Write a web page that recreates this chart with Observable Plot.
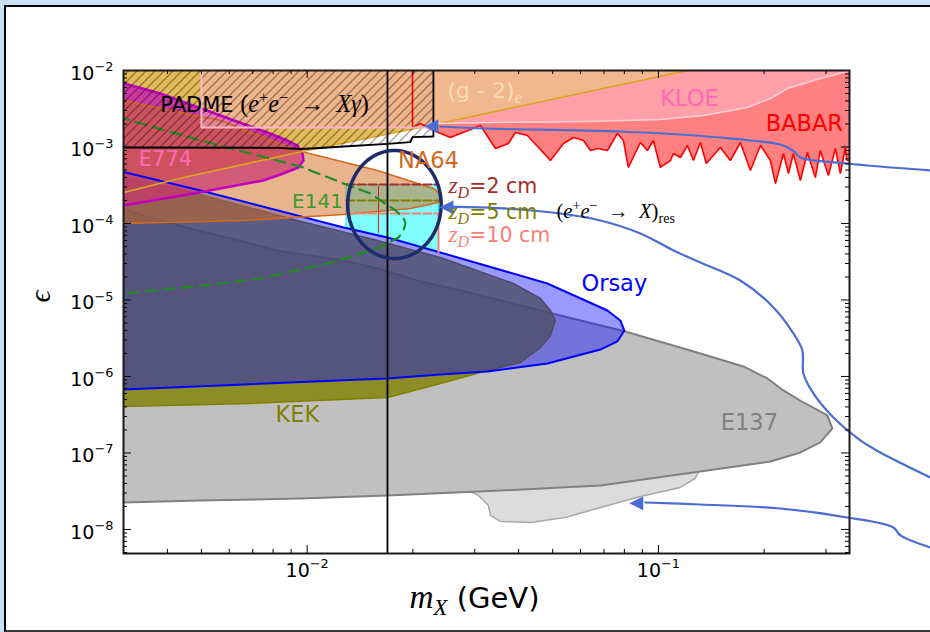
<!DOCTYPE html>
<html><head><meta charset="utf-8">
<script src="https://cdn.jsdelivr.net/npm/d3@7"></script>
<script src="https://cdn.jsdelivr.net/npm/@observablehq/plot@0.6"></script>
<style>
html,body{margin:0;padding:0;}
body{width:930px;height:632px;overflow:hidden;position:relative;background:#c8e1f6;font-family:"DejaVu Sans";}
#sheet{position:absolute;left:4px;top:5px;right:0;bottom:0;background:#fff;border-left:2px solid #000;border-top:2px solid #000;border-bottom:2px solid #3a3a3a;}
#chart{position:absolute;left:0;top:0;}
</style></head><body>
<div id="sheet"></div><div id="chart"></div>
<script>
// ---------- axes ----------
const xDomain = [0.003, 0.35];
const yDomain = [4.85e-9, 1e-2];
const xMajor = [0.01, 0.1];
const xMinor = [0.003,0.004,0.005,0.006,0.007,0.008,0.009,0.02,0.03,0.04,0.05,0.06,0.07,0.08,0.09,0.2,0.3];
const yMajor = [1e-2,1e-3,1e-4,1e-5,1e-6,1e-7,1e-8];
const xTickLabels = ["10§n^−2","10§n^−1"];
const yTickLabels = ["10§n^−2","10§n^−3","10§n^−4","10§n^−5","10§n^−6","10§n^−7","10§n^−8"];

// ---------- regions: [mX (GeV), epsilon] ----------
const babarEdge = [[0.01995,0.011],[0.01995,1.80e-3],[0.02102,2.03e-3],[0.02288,1.643e-3],[0.02557,1.331e-3],[0.03114,1.91e-3],[0.03436,9.56e-4],[0.03741,1.111e-3],[0.03916,1.547e-3],[0.04236,1.414e-3],[0.04928,6.66e-4],[0.05367,1.111e-3],[0.05731,1.331e-3],[0.06119,1.216e-3],[0.06405,9.0e-4],[0.06708,9.56e-4],[0.0716,9.0e-4],[0.0764,1.5e-3],[0.07952,1.216e-3],[0.08212,5.40e-4],[0.0889,1.145e-3],[0.09305,9.0e-4],[0.09678,1.216e-3],[0.1013,5.40e-4],[0.1082,6.66e-4],[0.1104,8.22e-4],[0.1155,7.29e-4],[0.121,1.046e-3],[0.1258,6.66e-4],[0.1317,1.145e-3],[0.1369,6.08e-4],[0.1501,9.85e-4],[0.1603,6.66e-4],[0.1711,1.145e-3],[0.1828,4.93e-4],[0.1952,1.046e-3],[0.2084,6.66e-4],[0.2154,3.33e-4],[0.227,8.22e-4],[0.2346,4.50e-4],[0.2423,8.22e-4],[0.2536,3.65e-4],[0.2655,8.47e-4],[0.2798,3.99e-4],[0.2889,9.0e-4],[0.3048,4.24e-4],[0.3191,9.56e-4],[0.3297,4.50e-4],[0.3407,9.85e-4],[0.3443,6.66e-4],[0.37,6.66e-4]];
const kloeEdge = [[0.02288,2.03e-3],[0.0326,2.09e-3],[0.06279,2.154e-3],[0.1013,2.29e-3],[0.1343,2.58e-3],[0.1792,3.28e-3],[0.2084,4.31e-3],[0.2331,5.82e-3],[0.2889,7.86e-3],[0.3443,9.70e-3],[0.3758,1.062e-2]];
const g2Edge = [[0.0029,2.45e-4],[0.00445,3.99e-4],[0.01,9.0e-4],[0.02102,1.80e-3],[0.02288,1.957e-3],[0.1501,1.234e-2]];
const e137Region = [[0.0029,1.6e-4],[0.003,1.571e-4],[0.00342,1.272e-4],[0.00488,8.10e-5],[0.00593,6.56e-5],[0.00823,4.44e-5],[0.0127,3.28e-5],[0.01585,2.58e-5],[0.0206,1.80e-5],[0.0273,1.331e-5],[0.0355,9.85e-6],[0.0526,6.27e-6],[0.0805,3.87e-6],[0.1233,2.19e-6],[0.1746,1.351e-6],[0.2043,9.42e-7],[0.227,6.56e-7],[0.2587,4.57e-7],[0.3028,3.09e-7],[0.3128,2.09e-7],[0.2889,1.372e-7],[0.2536,1.015e-7],[0.2084,7.74e-8],[0.1378,5.90e-8],[0.0684,3.76e-8],[0.0355,3.23e-8],[0.01693,2.78e-8],[0.00957,2.54e-8],[0.00497,2.39e-8],[0.003,2.25e-8],[0.0029,2.24e-8]];
const e137Extension = [[0.0279,3.45e-8],[0.03074,2.78e-8],[0.0328,2.06e-8],[0.03325,1.524e-8],[0.0355,1.272e-8],[0.04321,1.234e-8],[0.05436,1.435e-8],[0.0684,1.94e-8],[0.0889,2.70e-8],[0.1155,3.54e-8],[0.1274,4.64e-8],[0.131,6.0e-8]];
const kekRegion = [[0.0029,4.05e-4],[0.003,3.99e-4],[0.00428,2.87e-4],[0.00938,1.094e-4],[0.01585,6.0e-5],[0.02395,3.59e-5],[0.03866,1.643e-5],[0.04613,1.046e-5],[0.04928,7.29e-6],[0.0509,5.40e-6],[0.04928,3.44e-6],[0.04613,2.39e-6],[0.04048,1.524e-6],[0.03114,1.128e-6],[0.02395,8.10e-7],[0.01693,5.31e-7],[0.0069,4.44e-7],[0.003,4.05e-7],[0.0029,4.04e-7]];
const orsayRegion = [[0.0029,4.85e-4],[0.003,4.71e-4],[0.00497,2.70e-4],[0.0127,8.87e-5],[0.01693,6.56e-5],[0.02395,4.18e-5],[0.0483,1.643e-5],[0.0716,7.29e-6],[0.0779,5.40e-6],[0.08,3.99e-6],[0.0764,2.87e-6],[0.0684,2.25e-6],[0.0483,1.479e-6],[0.0326,1.162e-6],[0.02395,1.062e-6],[0.01693,9.42e-7],[0.0122,8.87e-7],[0.003,6.76e-7],[0.0029,6.74e-7]];
const e774Region = [[0.0029,7.0e-3],[0.003,6.82e-3],[0.00382,5.0e-3],[0.00566,2.58e-3],[0.00771,1.547e-3],[0.00879,1.216e-3],[0.00938,1.046e-3],[0.0097,8.22e-4],[0.00976,6.66e-4],[0.00944,5.40e-4],[0.0084,4.37e-4],[0.0075,3.65e-4],[0.00475,2.47e-4],[0.003,1.72e-4],[0.0029,1.68e-4]];
const na64Region = [[0.0029,4.2e-3],[0.003,4.05e-3],[0.00566,2.22e-3],[0.00938,9.0e-4],[0.01585,4.93e-4],[0.02288,2.87e-4],[0.02411,2.32e-4],[0.02365,1.88e-4],[0.01968,1.571e-4],[0.0127,1.311e-4],[0.00659,1.094e-4],[0.003,1.0e-4],[0.0029,1.0e-4]];
const e141Contour = [[0.0029,2.42e-3],[0.003,2.36e-3],[0.00497,1.216e-3],[0.00957,5.56e-4],[0.0127,3.33e-4],[0.01514,2.47e-4],[0.01784,1.479e-4],[0.0188,1.198e-4],[0.01905,1.0e-4],[0.0188,8.10e-5],[0.0182,6.56e-5],[0.01585,4.71e-5],[0.01142,3.0e-5],[0.00736,1.91e-5],[0.00507,1.547e-5],[0.0032,1.253e-5],[0.003,1.216e-5]];
const resonanceRegion = [[0.01294,3.23e-4],[0.02365,3.23e-4],[0.02365,4.18e-5],[0.01693,6.56e-5],[0.01294,8.87e-5]];
const zD2 = [[0.01294,3.23e-4],[0.02365,3.23e-4]];
const zD2Edge = [[0.01596,3.05e-4],[0.01596,7.63e-5]];
const zD5 = [[0.01294,2.0e-4],[0.02365,2.0e-4]];
const zD10 = [[0.01294,1.351e-4],[0.02365,1.351e-4]];
const zD10Edge = [[0.02365,1.351e-4],[0.02365,4.18e-5]];
const padmeBox = [[0.0050,1.80e-3],[0.02288,1.80e-3],[0.02288,0.011],[0.0050,0.011]];
const padmeBoxEdge = [[0.0050,0.011],[0.0050,1.80e-3],[0.02288,1.80e-3]];
const padmeHatch = [[0.0029,0.011],[0.02288,0.011],[0.02288,1.372e-3],[0.01995,1.343e-3],[0.01968,1.155e-3],[0.01693,1.101e-3],[0.0127,1.015e-3],[0.01091,9.70e-4],[0.00957,9.42e-4],[0.00823,9.76e-4],[0.0029,9.85e-4]];
const massLine = [0.01693];
const ellipseCenter = [0.01772, 1.772e-4];
const ellipseHalfDecades = [0.133, 0.706];
const arrowTop = [[0.5945,4.93e-4],[0.345,6.08e-4],[0.2536,7.29e-4],[0.2455,8.47e-4],[0.2331,9.85e-4],[0.2225,1.078e-3],[0.1501,1.331e-3],[0.0779,1.594e-3],[0.0326,1.745e-3],[0.02395,1.853e-3]];
const arrowMid = [[0.5945,4.78e-8],[0.4283,1.015e-7],[0.3758,1.457e-7],[0.3149,2.91e-7],[0.2762,6.0e-7],[0.2587,1.094e-6],[0.257,2.19e-6],[0.2423,3.65e-6],[0.2126,7.98e-6],[0.1711,1.80e-5],[0.1317,3.09e-5],[0.1104,4.44e-5],[0.0889,7.40e-5],[0.0684,1.094e-4],[0.0526,1.351e-4],[0.04048,1.524e-4],[0.03114,1.62e-4],[0.02508,1.66e-4]];
const arrowLow = [[0.5945,5.82e-9],[0.4886,8.35e-9],[0.4666,1.062e-8],[0.345,1.435e-8],[0.2225,1.88e-8],[0.1317,2.12e-8],[0.0918,2.25e-8]];
const arrowTips = [[0.0217,1.91e-3],[0.02395,1.668e-4],[0.0832,2.25e-8]];

// ---------- derived shapes ----------
const X = d => d[0], Y = d => d[1];
const babarPoly = [...babarEdge, [0.37, 0.011]];
const kloePoly = [...kloeEdge, [0.3758, 0.011], [0.02288, 0.011]];
const goldPoly = [...g2Edge.filter(d => d[0] <= 0.02288), [0.02288, 0.011], [0.0029, 0.011]];
const g2RightPoly = [...g2Edge.filter(d => d[0] >= 0.02288), [0.02288, 0.0124]];
const yMinor = [];
for (let e = -9; e <= -3; e++) for (let m = 2; m <= 9; m++) { const v = m * 10 ** e; if (v > yDomain[0] && v < yDomain[1]) yMinor.push(v); }
const ellipse = d3.range(0, 361, 4).map(a => {
  const t = a * Math.PI / 180;
  return [10 ** (Math.log10(ellipseCenter[0]) + ellipseHalfDecades[0] * Math.cos(t)),
          10 ** (Math.log10(ellipseCenter[1]) + ellipseHalfDecades[1] * Math.sin(t))];
});

const poly = (data, o) => Plot.line(data, {x: X, y: Y, curve: "linear-closed", stroke: "none", clip: true, ...o});
const path = (data, o) => Plot.line(data, {x: X, y: Y, fill: "none", clip: true, ...o});
const label = (x, y, text, o) => Plot.text([0], {x: () => x, y: () => y, text: () => text, ...o});
const arrowColor = "#4b6dd3";
const HATCH_STROKE = "#010101";

const W = 930, H = 632, mL = 123, mR = 81, mT = 70, mB = 79;
const iw = W - mL - mR, ih = H - mT - mB;

const chart = Plot.plot({
  width: W, height: H,
  marginLeft: mL, marginRight: mR, marginTop: mT, marginBottom: mB,
  x: {type: "log", domain: xDomain, axis: null},
  y: {type: "log", domain: yDomain, axis: null},
  style: {background: "transparent", fontFamily: "DejaVu Sans", overflow: "visible"},
  marks: [
    // fills
    poly(babarPoly, {fill: "#ff8080"}),
    poly(kloePoly, {fill: "#ff9fa7"}),
    poly(goldPoly, {fill: "#e3bb58"}),
    poly(g2RightPoly, {fill: "#f1b88e"}),
    poly(e137Extension, {fill: "#dcdcdc", stroke: "#a9a9a9", strokeWidth: 1.5}),
    poly(e137Region, {fill: "#c0c0c0", stroke: "#808080", strokeWidth: 2}),
    poly(kekRegion, {fill: "#808000", fillOpacity: 0.8, stroke: "#808000", strokeWidth: 1.5}),
    poly(orsayRegion, {fill: "#0000ff", fillOpacity: 0.4}),
    poly(resonanceRegion, {fill: "#00ffff", fillOpacity: 0.5, stroke: "#00e8e8", strokeWidth: 1}),
    poly(e774Region, {fill: "#c000c0", fillOpacity: 0.7}),
    poly(na64Region, {fill: "#d2691e", fillOpacity: 0.5}),
    poly(padmeBox, {fill: "#ffb0c0", fillOpacity: 0.5}),
    // edges
    Plot.line(orsayRegion, {x: X, y: Y, curve: "linear-closed", fill: "none", stroke: "#0000ff", strokeWidth: 2, clip: true}),
    path(e774Region, {stroke: "#c000c0", strokeWidth: 2.5}),
    path(na64Region, {stroke: "#d2691e", strokeWidth: 1.6}),
    path(g2Edge, {stroke: "#daa520", strokeWidth: 1.6}),
    path(kloeEdge, {stroke: "#ffd0d8", strokeWidth: 1.6}),
    path(babarEdge, {stroke: "#ff0000", strokeWidth: 1.6, strokeLinejoin: "miter"}),
    path(zD2, {stroke: "#a52a2a", strokeWidth: 2, strokeDasharray: "8,3"}),
    path(zD2Edge, {stroke: "#d42020", strokeWidth: 1}),
    path(zD5, {stroke: "#808000", strokeWidth: 2, strokeDasharray: "8,3"}),
    path(zD10, {stroke: "#fa8072", strokeWidth: 2, strokeDasharray: "8,3"}),
    path(zD10Edge, {stroke: "#fa8072", strokeWidth: 2}),
    path(e141Contour, {stroke: "#228b22", strokeWidth: 2.2, strokeDasharray: "11,7"}),
    Plot.line(padmeHatch, {x: X, y: Y, curve: "linear-closed", fill: "none", stroke: HATCH_STROKE, strokeWidth: 1.8, clip: true}),
    path(padmeBoxEdge, {stroke: "#ffb6c1", strokeWidth: 2}),
    Plot.ruleX(massLine, {x: d => d, stroke: "#000", strokeWidth: 1.8}),
    Plot.line(ellipse, {x: X, y: Y, curve: "linear-closed", fill: "none", stroke: "#1e2c6c", strokeWidth: 3.5}),
    // annotation arrows
    Plot.line(arrowTop, {x: X, y: Y, curve: "catmull-rom", stroke: arrowColor, strokeWidth: 2.2}),
    Plot.line(arrowMid, {x: X, y: Y, curve: "catmull-rom", stroke: arrowColor, strokeWidth: 2.2}),
    Plot.line(arrowLow, {x: X, y: Y, curve: "catmull-rom", stroke: arrowColor, strokeWidth: 2.2}),
    Plot.text(arrowTips, {x: X, y: Y, text: () => "◀", textAnchor: "start", fill: arrowColor, fontSize: 18, dx: -1}),
    // region labels
    label(0.00382, 3.49e-3, "§n.PADME §r.(§i.e§r^+§i.e§r^−§r.\u2002→\u2002§i.Xγ§r.)", {textAnchor: "start", fontSize: 21, fill: "#000"}),
    label(0.02508, 5.48e-3, "§n.(g - 2)§i_e", {textAnchor: "start", fontSize: 22, fill: "#f5deb3"}),
    label(0.1226, 4.31e-3, "KLOE", {fontSize: 22.5, fill: "#ff69b4"}),
    label(0.2603, 2.03e-3, "BABAR", {fontSize: 22.5, fill: "#ff0000"}),
    label(0.003951, 6.97e-4, "E774", {fontSize: 21, fill: "#ff69b4"}),
    label(0.02215, 6.56e-4, "NA64", {fontSize: 22.5, fill: "#d2691e"}),
    label(0.0107, 1.91e-4, "E141", {fontSize: 20, fill: "#3a9a2a"}),
    label(0.02525, 3.05e-4, "§i.z§i_D§n.=2 cm", {textAnchor: "start", fontSize: 20.5, fill: "#a52a2a"}),
    label(0.02525, 1.392e-4, "§i.z§i_D§n.=5 cm", {textAnchor: "start", fontSize: 20.5, fill: "#808000"}),
    label(0.05124, 1.392e-4, "§r.(§i.e§r^+§i.e§r^−§r.\u2002→\u2002§i.X§r.)§r_res", {textAnchor: "start", fontSize: 18, fill: "#000"}),
    label(0.02525, 6.97e-5, "§i.z§i_D§n.=10 cm", {textAnchor: "start", fontSize: 20.5, fill: "#fa8072"}),
    label(0.0749, 1.643e-5, "Orsay", {fontSize: 22.5, fill: "#0000ff"}),
    label(0.00938, 3.19e-7, "KEK", {fontSize: 22.5, fill: "#808000"}),
    label(0.1816, 2.47e-7, "E137", {fontSize: 22.5, fill: "#808080"}),
    // ticks (inward, all four sides)
    Plot.ruleX(xMajor, {x: d => d, insetTop: ih - 8, stroke: "#000"}),
    Plot.ruleX(xMajor, {x: d => d, insetBottom: ih - 8, stroke: "#000"}),
    Plot.ruleX(xMinor, {x: d => d, insetTop: ih - 4, stroke: "#000"}),
    Plot.ruleX(xMinor, {x: d => d, insetBottom: ih - 4, stroke: "#000"}),
    Plot.ruleY(yMajor, {y: d => d, insetRight: iw - 8, stroke: "#000"}),
    Plot.ruleY(yMajor, {y: d => d, insetLeft: iw - 8, stroke: "#000"}),
    Plot.ruleY(yMinor, {y: d => d, insetRight: iw - 4, stroke: "#000"}),
    Plot.ruleY(yMinor, {y: d => d, insetLeft: iw - 4, stroke: "#000"}),
    Plot.text(xMajor, {x: d => d, text: (d, i) => "§n." + xTickLabels[i], frameAnchor: "bottom", dy: 23, fontSize: 19, fill: "#000"}),
    Plot.text(yMajor, {y: d => d, text: (d, i) => "§n." + yTickLabels[i], frameAnchor: "left", textAnchor: "end", dx: -10, dy: 3, fontSize: 19, fill: "#000"}),
    Plot.text([0], {frameAnchor: "bottom", dy: 54, dx: -12, text: () => "§i.m§i_X§n. (GeV)", fontSize: 29, fill: "#000"}),
    Plot.text([0], {frameAnchor: "left", y: () => 9.28e-6, dx: -82, rotate: -90, text: () => "§i.ϵ", fontSize: 26, fill: "#000"}),
    Plot.frame({stroke: "#1a1a1a", strokeWidth: 2})
  ]
});
document.getElementById("chart").appendChild(chart);

// hatch pattern for the PADME region
const defs = d3.select(chart).insert("defs", ":first-child");
const pat = defs.append("pattern").attr("id", "hatch").attr("patternUnits", "userSpaceOnUse").attr("width", 9).attr("height", 9);
pat.append("path").attr("d", "M-2,2 l4,-4 M0,9 l9,-9 M7,11 l4,-4").attr("stroke", "#000").attr("stroke-width", 0.7);
d3.select(chart).selectAll("g").filter(function() { return this.getAttribute("stroke") === HATCH_STROKE; })
  .selectAll("path").attr("fill", "url(#hatch)");

// rich text: §<font><level><text>
(function rich(svg) {
  const fam = {n: "DejaVu Sans", i: "Liberation Serif", r: "Liberation Serif"};
  const sty = {n: "normal", i: "italic", r: "normal"};
  const scl = {n: 1, i: 1.15, r: 1.15};
  const lv = {".": [1, 0], "^": [0.68, -0.45], "_": [0.68, 0.25]};
  svg.querySelectorAll("text").forEach(t => {
    const s = t.textContent;
    if (!s.includes("§")) return;
    const base = parseFloat(getComputedStyle(t).fontSize);
    t.textContent = "";
    let cur = 0;
    s.split("§").filter(p => p.length > 2).forEach(p => {
      const f = p[0], l = p[1], str = p.slice(2);
      const [size, shift] = lv[l];
      const ts = document.createElementNS("http://www.w3.org/2000/svg", "tspan");
      ts.textContent = str;
      ts.setAttribute("font-family", fam[f]);
      ts.setAttribute("font-style", sty[f]);
      ts.setAttribute("font-size", (base * scl[f] * size).toFixed(2));
      const d = (shift - cur) * base;
      if (Math.abs(d) > 0.01) ts.setAttribute("dy", d.toFixed(2));
      cur = shift;
      t.appendChild(ts);
    });
  });
})(chart);
</script></body></html>
